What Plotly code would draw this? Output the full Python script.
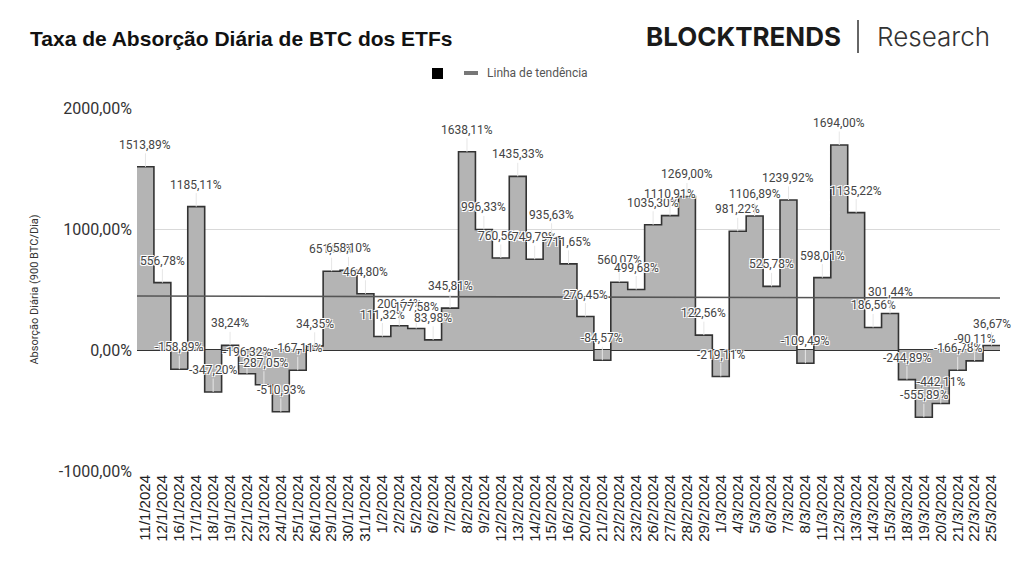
import numpy as np
import plotly.graph_objects as go

dates = ["11/1/2024","12/1/2024","16/1/2024","17/1/2024","18/1/2024","19/1/2024","22/1/2024",
         "23/1/2024","24/1/2024","25/1/2024","26/1/2024","29/1/2024","30/1/2024","31/1/2024",
         "1/2/2024","2/2/2024","5/2/2024","6/2/2024","7/2/2024","8/2/2024","9/2/2024",
         "12/2/2024","13/2/2024","14/2/2024","15/2/2024","16/2/2024","20/2/2024","21/2/2024",
         "22/2/2024","23/2/2024","26/2/2024","27/2/2024","28/2/2024","29/2/2024","1/3/2024",
         "4/3/2024","5/3/2024","6/3/2024","7/3/2024","8/3/2024","11/3/2024","12/3/2024",
         "13/3/2024","14/3/2024","15/3/2024","18/3/2024","19/3/2024","20/3/2024","21/3/2024",
         "22/3/2024","25/3/2024"]
values = [1513.89, 556.78, -158.89, 1185.11, -347.20, 38.24, -196.32,
          -287.05, -510.93, -167.11, 34.35, 651.05, 658.10, 464.80,
          111.32, 200.64, 177.58, 83.98, 345.81, 1638.11, 996.33,
          760.56, 1435.33, 749.79, 935.63, 711.65, 276.45, -84.57,
          560.07, 499.68, 1035.30, 1110.91, 1269.00, 122.56, -219.11,
          981.22, 1106.89, 525.78, 1239.92, -109.49, 598.01, 1694.00,
          1135.22, 186.56, 301.44, -244.89, -555.89, -442.11, -166.78,
          -90.11, 36.67]
y_ticks = [-1000, 0, 1000, 2000]
y_tick_text = ["-1000,00%", "0,00%", "1000,00%", "2000,00%"]

title = "Taxa de Absorção Diária de BTC dos ETFs"
y_title = "Absorção Diária (900 BTC/Dia)"
trend_name = "Linha de tendência"

n = len(values)
idx = np.arange(n)
# step edges: each category spans its whole band
step_x = list(idx - 0.5) + [n - 0.5]
step_y = values + [values[-1]]

slope, intercept = np.polyfit(idx, values, 1)
tx = [-0.5, n - 0.5]
ty = [intercept + slope * x for x in tx]

fig = go.Figure()
fig.add_trace(go.Scatter(
    x=step_x, y=step_y, mode="lines", line=dict(shape="hv", color="#333333", width=1.6),
    fill="tozeroy", fillcolor="#b4b4b4", showlegend=False, hoverinfo="skip"))
fig.add_trace(go.Scatter(
    x=tx, y=ty, mode="lines", name=trend_name, showlegend=False,
    line=dict(color="#555555", width=1.6)))

halo = "1px 1px 0px white, -1px -1px 0px white, 1px -1px 0px white, -1px 1px 0px white"
for i, v in enumerate(values):
    fig.add_annotation(
        x=i, y=v, text=f"{v:.2f}".replace(".", ",") + "%",
        showarrow=True, arrowhead=0, arrowwidth=1, arrowcolor="#e6e6e6",
        ax=0, ay=-22, standoff=0,
        font=dict(family="Roboto", size=12, color="#444444", shadow=halo))

L, R, T, B = 137, 1000, 108, 471
W, H = R - L, B - T
def px(x): return (x - L) / W
def py(y): return (B - y) / H

# header logo
fig.add_annotation(xref="paper", yref="paper", x=px(843), y=py(37), xanchor="right", yanchor="middle",
                   text="<b>BLOCKTRENDS</b>", showarrow=False,
                   font=dict(family="Inter", size=26, color="#1a1a1a", weight=900))
fig.add_annotation(xref="paper", yref="paper", x=px(875), y=py(37), xanchor="left", yanchor="middle",
                   text="Research", showarrow=False,
                   font=dict(family="Inter", size=26, color="#333333", weight=300))
fig.add_shape(type="line", xref="paper", yref="paper", x0=px(858), x1=px(858), y0=py(20), y1=py(53),
              line=dict(color="#333333", width=1.5))

# legend
fig.add_shape(type="rect", xref="paper", yref="paper", x0=px(432), x1=px(443), y0=py(68), y1=py(79),
              fillcolor="black", line=dict(width=0))
fig.add_shape(type="line", xref="paper", yref="paper", x0=px(464), x1=px(478), y0=py(73), y1=py(73),
              line=dict(color="#777777", width=4))
fig.add_annotation(xref="paper", yref="paper", x=px(485), y=py(73), xanchor="left", yanchor="middle",
                   text=trend_name, showarrow=False,
                   font=dict(family="Roboto", size=12, color="#555555"))

fig.update_layout(
    width=1024, height=577,
    margin=dict(l=L, r=1024 - R, t=T, b=577 - B),
    paper_bgcolor="white", plot_bgcolor="white",
    showlegend=False,
    title=dict(text=f"<b>{title}</b>", x=30 / 1024, xanchor="left", y=1 - 39 / 577, yanchor="middle",
               font=dict(family="Liberation Sans", size=21, color="#111111")),
    xaxis=dict(tickmode="array", tickvals=list(idx), ticktext=dates, tickangle=-90,
               range=[-0.5, n - 0.5], showgrid=False, zeroline=False, ticks="",
               tickfont=dict(family="Liberation Sans", size=15, color="#222222")),
    yaxis=dict(range=[-1000, 2000], tickmode="array", tickvals=y_ticks, ticktext=y_tick_text,
               gridcolor="#d9d9d9", gridwidth=1, zeroline=True, zerolinecolor="#333333", zerolinewidth=1.5,
               ticklabelstandoff=4,
               tickfont=dict(family="Roboto", size=16, color="#333333"),
               title=dict(text=y_title, standoff=17, font=dict(family="Roboto", size=11, color="#333333"))),
)

fig.write_html("out.html")
